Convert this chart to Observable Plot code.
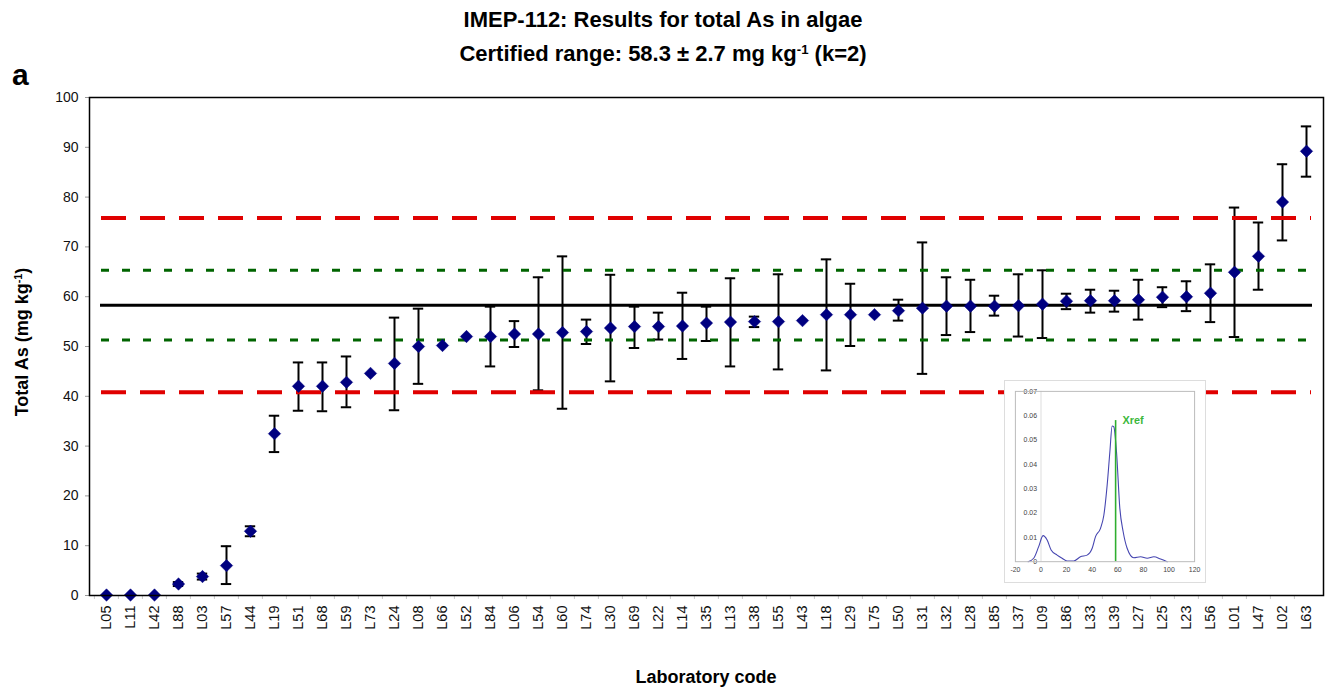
<!DOCTYPE html>
<html><head><meta charset="utf-8">
<script src="https://cdn.jsdelivr.net/npm/d3@7"></script>
<script src="https://cdn.jsdelivr.net/npm/@observablehq/plot@0.6"></script>
<style>
body{margin:0;background:#fff;font-family:"Liberation Sans",Arial,Helvetica,sans-serif;}
#wrap{position:relative;width:1326px;height:689px;overflow:hidden;background:#fff;}
#wrap svg{position:absolute;left:0;top:0;}
.t{position:absolute;font-weight:bold;color:#000;white-space:nowrap;line-height:1;}
.t sup{font-size:0.6em;line-height:0;vertical-align:0.55em;}
#inset{position:absolute;left:1004px;top:380px;width:202px;height:203px;box-sizing:border-box;border:1px solid #ddd;background:#fff;}
#inset svg{position:absolute;left:-1px;top:-1px;}
</style></head><body>
<div id="wrap">
  <div id="main"></div>
  <div class="t" style="left:0;width:1326px;text-align:center;top:9px;font-size:22px;">IMEP-112: Results for total As in algae</div>
  <div class="t" style="left:0;width:1326px;text-align:center;top:43px;font-size:22px;">Certified range: 58.3 ± 2.7 mg kg<sup>-1</sup> (k=2)</div>
  <div class="t" style="left:12px;top:60px;font-size:30px;">a</div>
  <div class="t" style="left:556px;width:300px;text-align:center;top:668px;font-size:18px;">Laboratory code</div>
  <div class="t" style="left:-128px;width:300px;text-align:center;top:333px;font-size:18px;transform:rotate(-90deg);">Total As (mg kg<sup>-1</sup>)</div>
  <div id="inset"></div>
</div>
<script>
// ---- data ----
const labs = ["L05","L11","L42","L88","L03","L57","L44","L19","L51","L68","L59","L73","L24","L08","L66","L52","L84","L06","L54","L60","L74","L30","L69","L22","L14","L35","L13","L38","L55","L43","L18","L29","L75","L50","L31","L32","L28","L85","L37","L09","L86","L33","L39","L27","L25","L23","L56","L01","L47","L02","L63"];
const values = [0.1,0.1,0.1,2.3,3.8,6.0,12.9,32.5,42.0,42.0,42.8,44.6,46.6,50.0,50.2,52.0,52.0,52.5,52.5,52.8,53.0,53.7,54.0,54.0,54.1,54.7,54.9,55.0,55.0,55.2,56.4,56.4,56.4,57.2,57.7,58.1,58.1,58.1,58.2,58.5,59.1,59.2,59.2,59.4,59.9,60.0,60.7,64.9,68.1,79.0,89.2];
const lower = [null,null,null,1.9,3.2,2.3,11.9,28.8,37.1,37.0,37.8,null,37.2,42.5,null,null,46.0,49.9,41.2,37.5,50.5,43.0,49.7,51.4,47.5,51.1,46.0,53.9,45.4,null,45.2,50.1,null,55.2,44.5,52.3,52.9,56.2,52.0,51.7,57.5,56.8,57.0,55.4,57.9,57.1,54.9,51.9,61.4,71.3,84.1];
const upper = [null,null,null,2.7,4.4,9.9,13.9,36.1,46.8,46.8,48.0,null,55.8,57.6,null,null,58.0,55.1,63.9,68.1,55.4,64.4,58.0,56.8,60.8,58.0,63.7,56.0,64.5,null,67.5,62.6,null,59.4,70.9,63.9,63.4,60.2,64.5,65.3,60.6,61.4,61.2,63.4,61.9,63.1,66.5,77.9,74.9,86.6,94.2];
const certified = 58.3;
const greenLimits = [51.3, 65.3];
const redLimits = [40.8, 75.8];
const yTicks = [0,10,20,30,40,50,60,70,80,90,100];

// inset: kernel density curve
const densX = [-10.1,-5.7,-1.8,1.6,4.8,7.9,12.6,16.5,20.4,25.6,30.8,36,40,42.6,46.5,49.1,51.7,53.8,55.6,56.9,59,61.6,64.2,67.3,72.5,77.8,83,88.2,93.4,98.6];
const densY = [0,0.0014,0.0062,0.0107,0.0089,0.0048,0.0027,0.0014,0.0003,0.0003,0.002,0.0027,0.0055,0.0103,0.0137,0.0191,0.0315,0.0451,0.0558,0.0554,0.0451,0.0219,0.0123,0.0055,0.0016,0.002,0.0014,0.002,0.0011,0];
const insetXTicks = [-20,0,20,40,60,80,100,120];
const insetYTicks = [0,0.01,0.02,0.03,0.04,0.05,0.06,0.07];
const xrefTop = 0.058;

// ---- build ----
const rows = labs.map((lab, i) => ({lab, value: values[i], lo: lower[i], hi: upper[i]}));
const errRows = rows.filter(d => d.lo != null);

const main = Plot.plot({
  width: 1326, height: 689,
  marginTop: 97, marginLeft: 89, marginRight: 3, marginBottom: 94,
  style: {fontFamily: '"Liberation Sans", Arial, sans-serif', fontSize: "14px", background: "transparent", color: "#111"},
  x: {type: "band", domain: labs, padding: 0, axis: null, label: null},
  y: {domain: [0, 100], axis: null, label: null},
  marks: [
    Plot.axisY({ticks: yTicks, tickSize: 4, tickPadding: 7, stroke: "#999", fontSize: 14, label: null}),
    Plot.axisX({tickSize: 0, tickPadding: 10, tickRotate: -90, fontSize: 14.5, label: null}),
    Plot.ruleX(labs, {x: d => d, y1: 0, y2: -0.8, dx: -12.1, stroke: "#c8c8c8"}),
    Plot.ruleX(errRows, {x: "lab", y1: "lo", y2: "hi", stroke: "#000", strokeWidth: 2}),
    Plot.tickY(errRows, {x: "lab", y: "lo", stroke: "#000", strokeWidth: 2, insetLeft: 6.8, insetRight: 6.8}),
    Plot.tickY(errRows, {x: "lab", y: "hi", stroke: "#000", strokeWidth: 2, insetLeft: 6.8, insetRight: 6.8}),
    Plot.ruleY(redLimits, {stroke: "#e00000", strokeWidth: 4, strokeDasharray: "25,14", insetLeft: 12, insetRight: 12}),
    Plot.ruleY(greenLimits, {stroke: "#006400", strokeWidth: 3, strokeDasharray: "8,13", insetLeft: 12, insetRight: 12}),
    Plot.ruleY([certified], {stroke: "#000", strokeWidth: 3, insetLeft: 11, insetRight: 11}),
    Plot.dot(rows, {x: "lab", y: "value", symbol: "diamond2", r: 5.6, fill: "#000080", stroke: "#000080", strokeWidth: 0.5}),
    Plot.frame({stroke: "#000", strokeWidth: 1.5})
  ]
});
document.getElementById("main").appendChild(main);

const dens = densX.map((x, i) => ({x, y: densY[i]}));
const inset = Plot.plot({
  width: 202, height: 203,
  marginTop: 11, marginLeft: 11, marginRight: 10, marginBottom: 20,
  style: {fontFamily: '"Liberation Sans", Arial, sans-serif', fontSize: "7px", background: "transparent", color: "#444"},
  x: {domain: [-20, 120], axis: null},
  y: {domain: [0, 0.07], axis: null},
  marks: [
    Plot.ruleX([0], {stroke: "#ddd"}),
    Plot.axisX({ticks: insetXTicks, tickSize: 0, tickPadding: 5, label: null, tickFormat: d => String(d)}),
    Plot.text(insetYTicks, {x: 0, y: d => d, text: d => String(d), textAnchor: "end", dx: -4, fill: "#444"}),
    Plot.line(dens, {x: "x", y: "y", stroke: "#4545b0", strokeWidth: 1.1, curve: "monotone-x"}),
    Plot.ruleX([certified], {y1: 0, y2: xrefTop, stroke: "#2fae2f", strokeWidth: 1.6}),
    Plot.text([certified], {x: d => d, y: xrefTop, text: () => "Xref", textAnchor: "start", dx: 7, dy: 0, fill: "#3cb83c", fontWeight: "bold", fontSize: 11}),
    Plot.frame({stroke: "#bbb"})
  ]
});
document.getElementById("inset").appendChild(inset);
</script>
</body></html>
